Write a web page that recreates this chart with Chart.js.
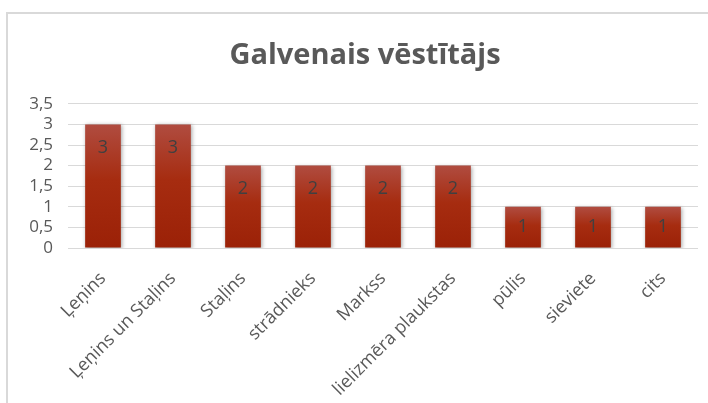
<!DOCTYPE html>
<html>
<head>
<meta charset="utf-8">
<script src="https://cdn.jsdelivr.net/npm/chart.js@4"></script>
<style>
    body { margin: 0; background: #fff; }
    #wrap { position: relative; width: 708px; height: 403px; overflow: hidden; }
    #frame { position: absolute; left: 6px; top: 12px; width: 760px; height: 460px; border: 2px solid #d9d9d9; box-sizing: border-box; }
    canvas { position: absolute; left: 0; top: 0; }
</style>
</head>
<body>
<div id="wrap">
    <div id="frame"></div>
    <canvas id="chart" width="708" height="403"></canvas>
</div>
<script>
const labels = ['Ļeņins', 'Ļeņins un Staļins', 'Staļins', 'strādnieks', 'Markss', 'lielizmēra plaukstas', 'pūlis', 'sieviete', 'cits']
const counts = [3, 3, 2, 2, 2, 2, 1, 1, 1]
const yTicks = [0, 0.5, 1, 1.5, 2, 2.5, 3, 3.5]

const barFill = (ctx) => {
    const chart = ctx.chart
    const y = chart.scales.y
    if (!y || ctx.raw === undefined) return '#a5290c'
    const top = y.getPixelForValue(ctx.raw)
    const base = y.getPixelForValue(0)
    if (!isFinite(top) || !isFinite(base) || top === base) return '#a5290c'
    const g = chart.ctx.createLinearGradient(0, top, 0, base)
    g.addColorStop(0, '#b04c40')
    g.addColorStop(0.45, '#a62c10')
    g.addColorStop(1, '#9b2107')
    return g
}

// value labels placed just inside the top of each bar
const insideLabels = {
    id: 'insideLabels',
    afterDatasetsDraw(chart) {
        const c = chart.ctx
        const meta = chart.getDatasetMeta(0)
        c.save()
        c.font = '18px "Open Sans", sans-serif'
        c.fillStyle = '#404040'
        c.textAlign = 'center'
        c.textBaseline = 'middle'
        meta.data.forEach((bar, i) => {
            const h = bar.base - bar.y
            const off = Math.min(23, h / 2)
            c.fillText(String(counts[i]), bar.x, bar.y + off)
        })
        c.restore()
    }
}

const barShadow = {
    id: 'barShadow',
    beforeDatasetsDraw(chart) {
        const c = chart.ctx
        c.save()
        c.shadowColor = 'rgba(0,0,0,0.35)'
        c.shadowBlur = 4
        c.shadowOffsetX = 1
        c.shadowOffsetY = 1
    },
    afterDatasetsDraw(chart) {
        chart.ctx.restore()
    }
}

const ctx = document.getElementById('chart')
new Chart(ctx, {
    type: 'bar',
    data: {
        labels: labels,
        datasets: [{
            data: counts,
            backgroundColor: barFill,
            borderWidth: 0,
            categoryPercentage: 1,
            barPercentage: 0.51
        }]
    },
    options: {
        responsive: false,
        animation: false,
        layout: { padding: { left: 22, right: 0, top: 0, bottom: 0 } },
        plugins: {
            legend: { display: false },
            tooltip: { enabled: false },
            title: {
                display: true,
                text: 'Galvenais vēstītājs',
                color: '#595959',
                font: { family: '"Open Sans", sans-serif', size: 29, weight: 'bold' },
                padding: { top: 38, bottom: 31 }
            }
        },
        scales: {
            y: {
                min: 0,
                max: 3.5,
                afterBuildTicks: (s) => { s.ticks = yTicks.map(v => ({ value: v })) },
                afterFit: (s) => { s.width = 46 },
                border: { display: false },
                grid: { color: '#d9d9d9', lineWidth: 1, drawTicks: false },
                ticks: {
                    autoSkip: false,
                    color: '#595959',
                    padding: 15,
                    font: { family: '"Open Sans", sans-serif', size: 17 },
                    callback: (v) => String(v).replace('.', ',')
                }
            },
            // empty right-hand spacer so the plot stops short of the edge
            spacer: {
                type: 'linear',
                position: 'right',
                afterFit: (s) => { s.width = 10 },
                grid: { display: false },
                border: { display: false },
                ticks: { display: false }
            },
            x: {
                afterFit: (s) => { s.height = 155 },
                border: { display: false },
                grid: { display: false },
                ticks: {
                    autoSkip: false,
                    color: '#595959',
                    minRotation: 45,
                    maxRotation: 45,
                    padding: 12,
                    font: { family: '"Open Sans", sans-serif', size: 18 }
                }
            }
        }
    },
    plugins: [barShadow, insideLabels]
})
</script>
</body>
</html>
